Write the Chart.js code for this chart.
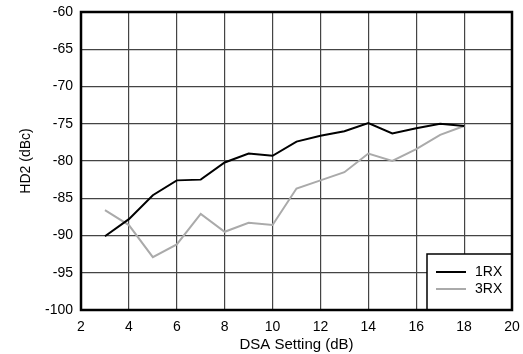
<!DOCTYPE html>
<html>
<head>
<meta charset="utf-8">
<script src="https://cdn.jsdelivr.net/npm/chart.js@4/dist/chart.umd.min.js"></script>
<style>
  html, body { margin: 0; padding: 0; background: #fff; }
  #wrap { width: 523px; height: 354px; }
</style>
</head>
<body>
<div id="wrap"><canvas id="chart" width="523" height="354"></canvas></div>
<script>
const dsaSteps = [3, 4, 5, 6, 7, 8, 9, 10, 11, 12, 13, 14, 15, 16, 17, 18];
const hd2_1RX = [-90.1, -87.8, -84.6, -82.6, -82.5, -80.2, -79.0, -79.3, -77.4, -76.6, -76.0, -74.9, -76.3, -75.6, -75.0, -75.3];
const hd2_3RX = [-86.6, -88.6, -92.9, -91.2, -87.1, -89.5, -88.3, -88.6, -83.7, -82.6, -81.5, -79.0, -80.0, -78.4, -76.5, -75.3];
const seriesNames = ["1RX", "3RX"];
const xTicks = [2, 4, 6, 8, 10, 12, 14, 16, 18, 20];
const yTicks = [-60, -65, -70, -75, -80, -85, -90, -95, -100];

const font = "Liberation Sans, Arial, sans-serif";

function toPoints(xs, ys) {
  return xs.map((x, i) => ({ x: x, y: ys[i] }));
}

// legend box sits in the lower right corner of the plot
const boxLegend = {
  id: "boxLegend",
  afterDraw(chart) {
    const ctx = chart.ctx;
    const area = chart.chartArea;
    const w = 85, h = 56;
    const x0 = area.right - w, y0 = area.bottom - h;
    ctx.save();
    ctx.fillStyle = "#fff";
    ctx.fillRect(x0, y0, w, h);
    ctx.strokeStyle = "#000";
    ctx.lineWidth = 1.5;
    ctx.strokeRect(x0, y0, w, h);
    ctx.font = "14px " + font;
    ctx.textBaseline = "middle";
    chart.data.datasets.forEach((ds, i) => {
      const y = y0 + 18 + i * 17;
      ctx.strokeStyle = ds.borderColor;
      ctx.lineWidth = 2;
      ctx.beginPath();
      ctx.moveTo(x0 + 9, y);
      ctx.lineTo(x0 + 39, y);
      ctx.stroke();
      ctx.fillStyle = "#000";
      ctx.fillText(ds.label, x0 + 48, y);
    });
    // redraw the plot frame on top
    ctx.strokeStyle = "#000";
    ctx.lineWidth = 2.5;
    ctx.strokeRect(area.left, area.top, area.right - area.left, area.bottom - area.top);
    ctx.restore();
  }
};

new Chart(document.getElementById("chart"), {
  type: "line",
  data: {
    datasets: [
      {
        label: seriesNames[0],
        data: toPoints(dsaSteps, hd2_1RX),
        borderColor: "#000000",
        borderWidth: 2,
        pointRadius: 0,
        tension: 0
      },
      {
        label: seriesNames[1],
        data: toPoints(dsaSteps, hd2_3RX),
        borderColor: "#aaaaaa",
        borderWidth: 2,
        pointRadius: 0,
        tension: 0
      }
    ]
  },
  options: {
    responsive: false,
    animation: false,
    layout: { padding: { top: 12, right: 11, left: 0, bottom: 0 } },
    plugins: {
      legend: { display: false },
      tooltip: { enabled: false }
    },
    scales: {
      x: {
        type: "linear",
        min: 2,
        max: 20,
        afterBuildTicks: s => { s.ticks = xTicks.map(v => ({ value: v })); },
        afterFit: s => { s.height = 44; s.paddingLeft = 0; s.paddingRight = 0; },
        grid: { color: "#444", lineWidth: 1.2, drawTicks: false },
        border: { display: false },
        ticks: { color: "#000", font: { family: font, size: 14 }, padding: 9, maxRotation: 0 },
        title: {
          display: true,
          text: "DSA Setting (dB)",
          color: "#000",
          font: { family: font, size: 15 },
          padding: { top: 0, bottom: 0 }
        }
      },
      y: {
        min: -100,
        max: -60,
        afterBuildTicks: s => { s.ticks = yTicks.map(v => ({ value: v })); },
        afterFit: s => { s.width = 81; s.paddingTop = 0; s.paddingBottom = 0; },
        grid: { color: "#444", lineWidth: 1.2, drawTicks: false },
        border: { display: false },
        ticks: { color: "#000", font: { family: font, size: 14 }, padding: 8 },
        title: {
          display: true,
          text: "HD2 (dBc)",
          color: "#000",
          font: { family: font, size: 14 },
          padding: { top: 18, bottom: 4 }
        }
      }
    }
  },
  plugins: [boxLegend]
});
</script>
</body>
</html>
